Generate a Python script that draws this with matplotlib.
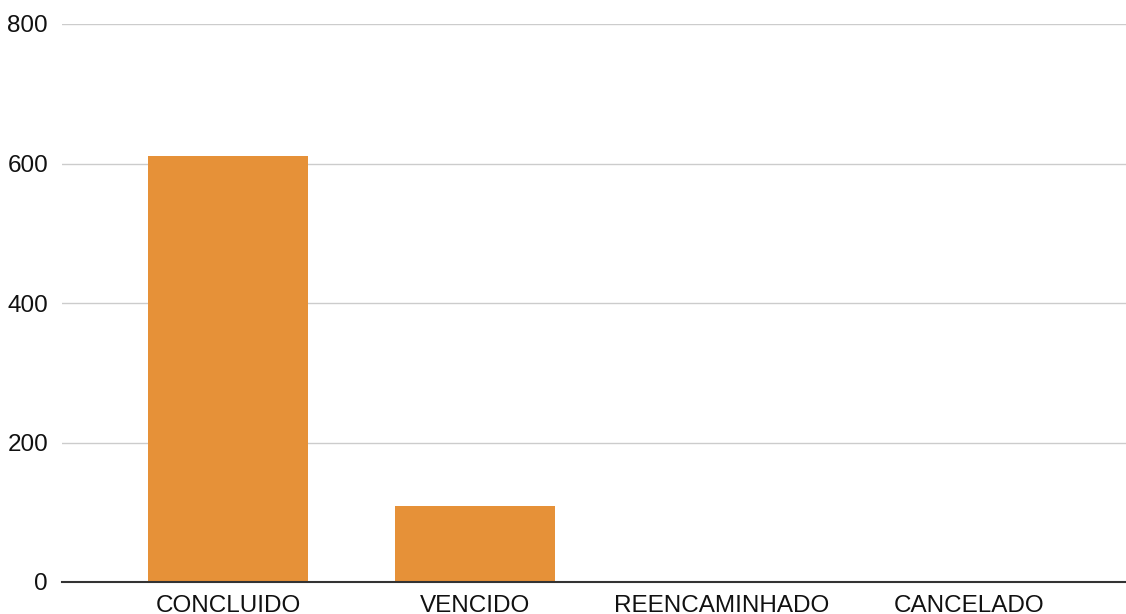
import matplotlib
matplotlib.use("Agg")
import matplotlib.pyplot as plt

categories = ["CONCLUIDO", "VENCIDO", "REENCAMINHADO", "CANCELADO"]
values = [611, 109, 0, 0]
yticks = [0, 200, 400, 600, 800]

plt.rcParams['font.family'] = ['Liberation Sans', 'DejaVu Sans']

W, H = 1126, 614
fig = plt.figure(figsize=(W / 100, H / 100), dpi=100)
ax = fig.add_axes([62 / W, 32 / H, (1126 - 62) / W, (582 - 24) / H])

x = list(range(len(categories)))
ax.bar(x, values, width=0.648, color="#E69138", zorder=3)

ax.set_ylim(0, 800)
ax.set_xlim(-0.672, 3.636)
ax.set_yticks(yticks)
ax.set_yticklabels([str(t) for t in yticks], fontsize=17.5, color="#111111")
ax.set_xticks(x)
ax.set_xticklabels(categories, fontsize=17.5, color="#111111")
ax.tick_params(axis="both", length=0)
ax.tick_params(axis="y", pad=10)
ax.tick_params(axis="x", pad=9)

ax.grid(axis="y", color="#cccccc", linewidth=1, zorder=0)
for s in ["top", "right", "left"]:
    ax.spines[s].set_visible(False)
ax.spines["bottom"].set_color("#333333")
ax.spines["bottom"].set_linewidth(1.5)
ax.spines["bottom"].set_zorder(4)

fig.savefig("out.png", dpi=100)
